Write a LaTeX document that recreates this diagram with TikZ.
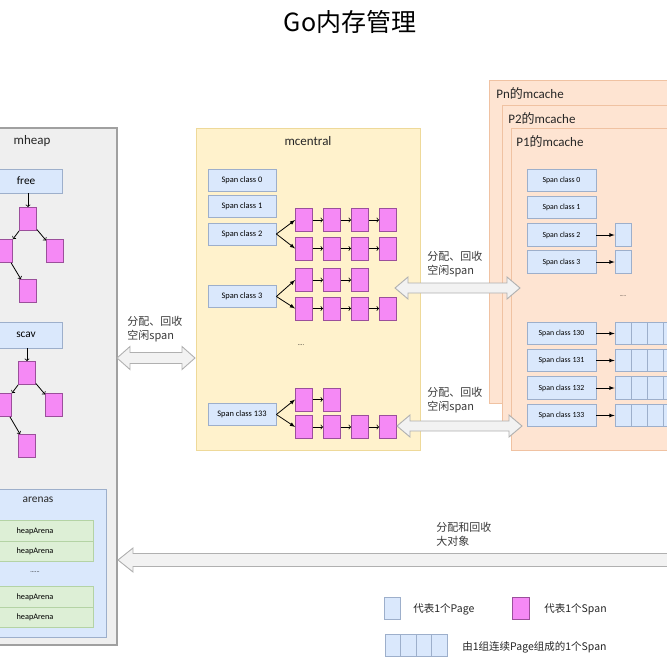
\documentclass[tikz,border=0pt]{standalone}
\usepackage{fontspec}
\setmainfont{Carlito}
\newfontfamily\cjk{Noto Sans CJK SC}
\usepackage{tikz}

\definecolor{spanfill}{HTML}{F589F5}
\definecolor{spanline}{HTML}{9B4F9B}
\definecolor{boxfill}{HTML}{DAE8FC}
\definecolor{boxline}{HTML}{9DAFCB}
\definecolor{heapfill}{HTML}{EFEFEF}
\definecolor{heapline}{HTML}{A0A0A0}
\definecolor{greenfill}{HTML}{DDEFD6}
\definecolor{greenline}{HTML}{B4D3A5}
\definecolor{yellowfill}{HTML}{FFF2CC}
\definecolor{yellowline}{HTML}{EED999}
\definecolor{cachefill}{HTML}{FEE4D2}
\definecolor{cacheline}{HTML}{F0C2A2}
\definecolor{arrowfill}{HTML}{F2F2F2}
\definecolor{arrowline}{HTML}{B0B0B0}
\definecolor{notegray}{HTML}{3A3A3A}

\begin{document}
\begin{tikzpicture}[x=1pt, y=-1pt, line width=0.8pt,
  spanbox/.style={draw=spanline, fill=spanfill, minimum width=17pt, minimum height=23pt, inner sep=0pt},
  pagebox/.style={draw=boxline, fill=boxfill, minimum width=16pt, minimum height=22.5pt, inner sep=0pt},
  classbox/.style={draw=boxline, fill=boxfill, minimum width=68pt, minimum height=22pt, inner sep=0pt, font=\fontsize{8.4}{10}\selectfont},
  listbox/.style={draw=boxline, fill=boxfill, minimum width=72pt, minimum height=24pt, inner sep=0pt, font=\fontsize{11.3}{13}\selectfont},
  arenabox/.style={draw=greenline, fill=greenfill, minimum width=116pt, minimum height=20.5pt, inner sep=0pt, font=\fontsize{8.3}{10}\selectfont},
  blockarrow/.style={draw=arrowline, fill=arrowfill, line width=0.9pt},
  note/.style={font=\cjk\fontsize{11}{14}\selectfont, text=notegray, align=left, inner sep=0pt, anchor=north west},
  legend/.style={font=\cjk\fontsize{10.5}{12}\selectfont, text=black!85, inner sep=0pt, anchor=west},
  boxtitle/.style={font=\fontsize{13}{16}\selectfont, text=black!85}]
  \useasboundingbox (0,0) rectangle (667,667);
  \clip (0,0) rectangle (667,667);

  \node[font=\cjk\fontsize{25}{30}\selectfont] (title) at (350,22) {Go内存管理};

  % mheap
  \filldraw[draw=heapline, fill=heapfill, line width=1.2pt] (-10,128) rectangle (117,645);
  \node[boxtitle] (heaptitle) at (32,141) {mheap};
  \node[listbox] (free) at (26,181) {free};
  \node[spanbox] (f0) at (28,219) {};
  \node[spanbox] (f1) at (4,251) {};
  \node[spanbox] (f2) at (55,251) {};
  \node[spanbox] (f3) at (28,291) {};
  \draw[->] (free.south -| f0) -- (f0);
  \draw[->] (f0) -- (f1);
  \draw[->] (f0) -- (f2);
  \draw[->] (f1) -- (f3);

  \node[listbox, minimum height=26pt] (scav) at (26,335) {scav};
  \node[spanbox] (v0) at (27,373) {};
  \node[spanbox] (v1) at (3,405) {};
  \node[spanbox] (v2) at (54,405) {};
  \node[spanbox] (v3) at (27,446) {};
  \draw[->] (scav.south -| v0) -- (v0);
  \draw[->] (v0) -- (v1);
  \draw[->] (v0) -- (v2);
  \draw[->] (v1) -- (v3);

  \filldraw[draw=boxline, fill=boxfill, line width=1pt] (-10,489) rectangle (106,637);
  \node[font=\fontsize{11.4}{14}\selectfont, text=black!85] (arenas) at (38,500) {arenas};
  \foreach \y [count=\i] in {531,551.5,597,617.5}
    \node[arenabox] (ha\i) at (35,\y) {heapArena};
  \node[font=\fontsize{6}{7}\selectfont] (adots) at (35,572) {......};

  % mcentral
  \filldraw[draw=yellowline, fill=yellowfill, line width=1pt] (196,128) rectangle (420,450);
  \node[boxtitle] (central) at (308,141) {mcentral};
  \foreach \n/\y in {0/180,1/206,2/234,3/296.5,133/414.5}
    \node[classbox] (c\n) at (242,\y) {Span class \n};
  \foreach \r/\y/\n in {1/220/4,2/248.5/4,3/280/3,4/308.5/4,5/399.5/2,6/427/4} {
    \foreach \i in {1,...,\n}
      \node[spanbox] (s\r\i) at ({304+28*(\i-1)},\y) {};
    \foreach \i [evaluate=\i as \j using int(\i-1)] in {2,...,\n}
      \draw[->] (s\r\j) -- (s\r\i);
  }
  \draw[-latex] (c2.east) -- (s11.west);
  \draw[-latex] (c2.east) -- (s21.west);
  \draw[-latex] (c3.east) -- (s31.west);
  \draw[-latex] (c3.east) -- (s41.west);
  \draw[-latex] (c133.east) -- (s51.west);
  \draw[-latex] (c133.east) -- (s61.west);
  \node[font=\fontsize{6}{7}\selectfont] (cdots) at (301,345) {....};

  % mcache
  \filldraw[draw=cacheline, fill=cachefill, line width=1pt] (489,80) rectangle (700,403);
  \filldraw[draw=cacheline, fill=cachefill, line width=1pt] (502,105) rectangle (700,425);
  \filldraw[draw=cacheline, fill=cachefill, line width=1pt] (511,128) rectangle (700,450);
  \node[boxtitle, anchor=west, inner sep=0pt] (pn) at (496,93) {Pn{\cjk 的}mcache};
  \node[boxtitle, anchor=west, inner sep=0pt] (p2) at (508,118) {P2{\cjk 的}mcache};
  \node[boxtitle, anchor=west, inner sep=0pt] (p1) at (516,141) {P1{\cjk 的}mcache};
  \foreach \n/\y in {0/180.5,1/207.5,2/235,3/262,130/333.5,131/360.5,132/388,133/415.5}
    \node[classbox, minimum width=69pt, minimum height=22.5pt, font=\fontsize{7.8}{9}\selectfont] (m\n) at (561.5,\y) {Span class \n};
  \node[pagebox] (q2) at (623,235) {};
  \node[pagebox] (q3) at (623,262) {};
  \draw[-latex] (m2.east) -- (q2.west);
  \draw[-latex] (m3.east) -- (q3.west);
  \foreach \n/\y in {130/333.5,131/360.5,132/388,133/415.5} {
    \foreach \i in {0,...,4}
      \node[pagebox] (q\n\i) at ({623+16*\i},\y) {};
    \draw[-latex] (m\n.east) -- (q\n0.west);
  }
  \node[font=\fontsize{5}{6}\selectfont] (mdots) at (623,296) {.....};

  % big arrows
  \draw[blockarrow] (117,358) -- (130,346.5) -- (130,352.5) -- (182,352.5) -- (182,346.5) -- (195,358)
    -- (182,369.5) -- (182,363.5) -- (130,363.5) -- (130,369.5) -- cycle;
  \draw[blockarrow] (395,288) -- (408,277) -- (408,283) -- (507,283) -- (507,277) -- (520,288)
    -- (507,299) -- (507,293) -- (408,293) -- (408,299) -- cycle;
  \draw[blockarrow] (397,426) -- (410,415) -- (410,421) -- (509,421) -- (509,415) -- (522,426)
    -- (509,437) -- (509,431) -- (410,431) -- (410,437) -- cycle;
  \draw[blockarrow] (118,560) -- (133,548) -- (133,553.5) -- (680,553.5) -- (680,566.5)
    -- (133,566.5) -- (133,572) -- cycle;
  \node[note] (n1) at (127,316) {分配、回收\\空闲span};
  \node[note] (n2) at (427,251) {分配、回收\\空闲span};
  \node[note] (n3) at (427,387) {分配、回收\\空闲span};
  \node[note] (n4) at (436,522) {分配和回收\\大对象};

  % legend
  \node[pagebox, minimum height=22pt] (lpage) at (392.5,608) {};
  \node[legend] (lpagetext) at (413,609) {代表1个Page};
  \node[spanbox, minimum height=22pt] (lspan) at (520.5,608) {};
  \node[legend] (lspantext) at (544,609) {代表1个Span};
  \foreach \i in {0,...,3}
    \node[pagebox, minimum width=15.5pt, minimum height=22pt] (lrun\i) at ({393+15.5*\i},645) {};
  \node[legend] (lruntext) at (462,647) {由1组连续Page组成的1个Span};
\end{tikzpicture}
\end{document}
